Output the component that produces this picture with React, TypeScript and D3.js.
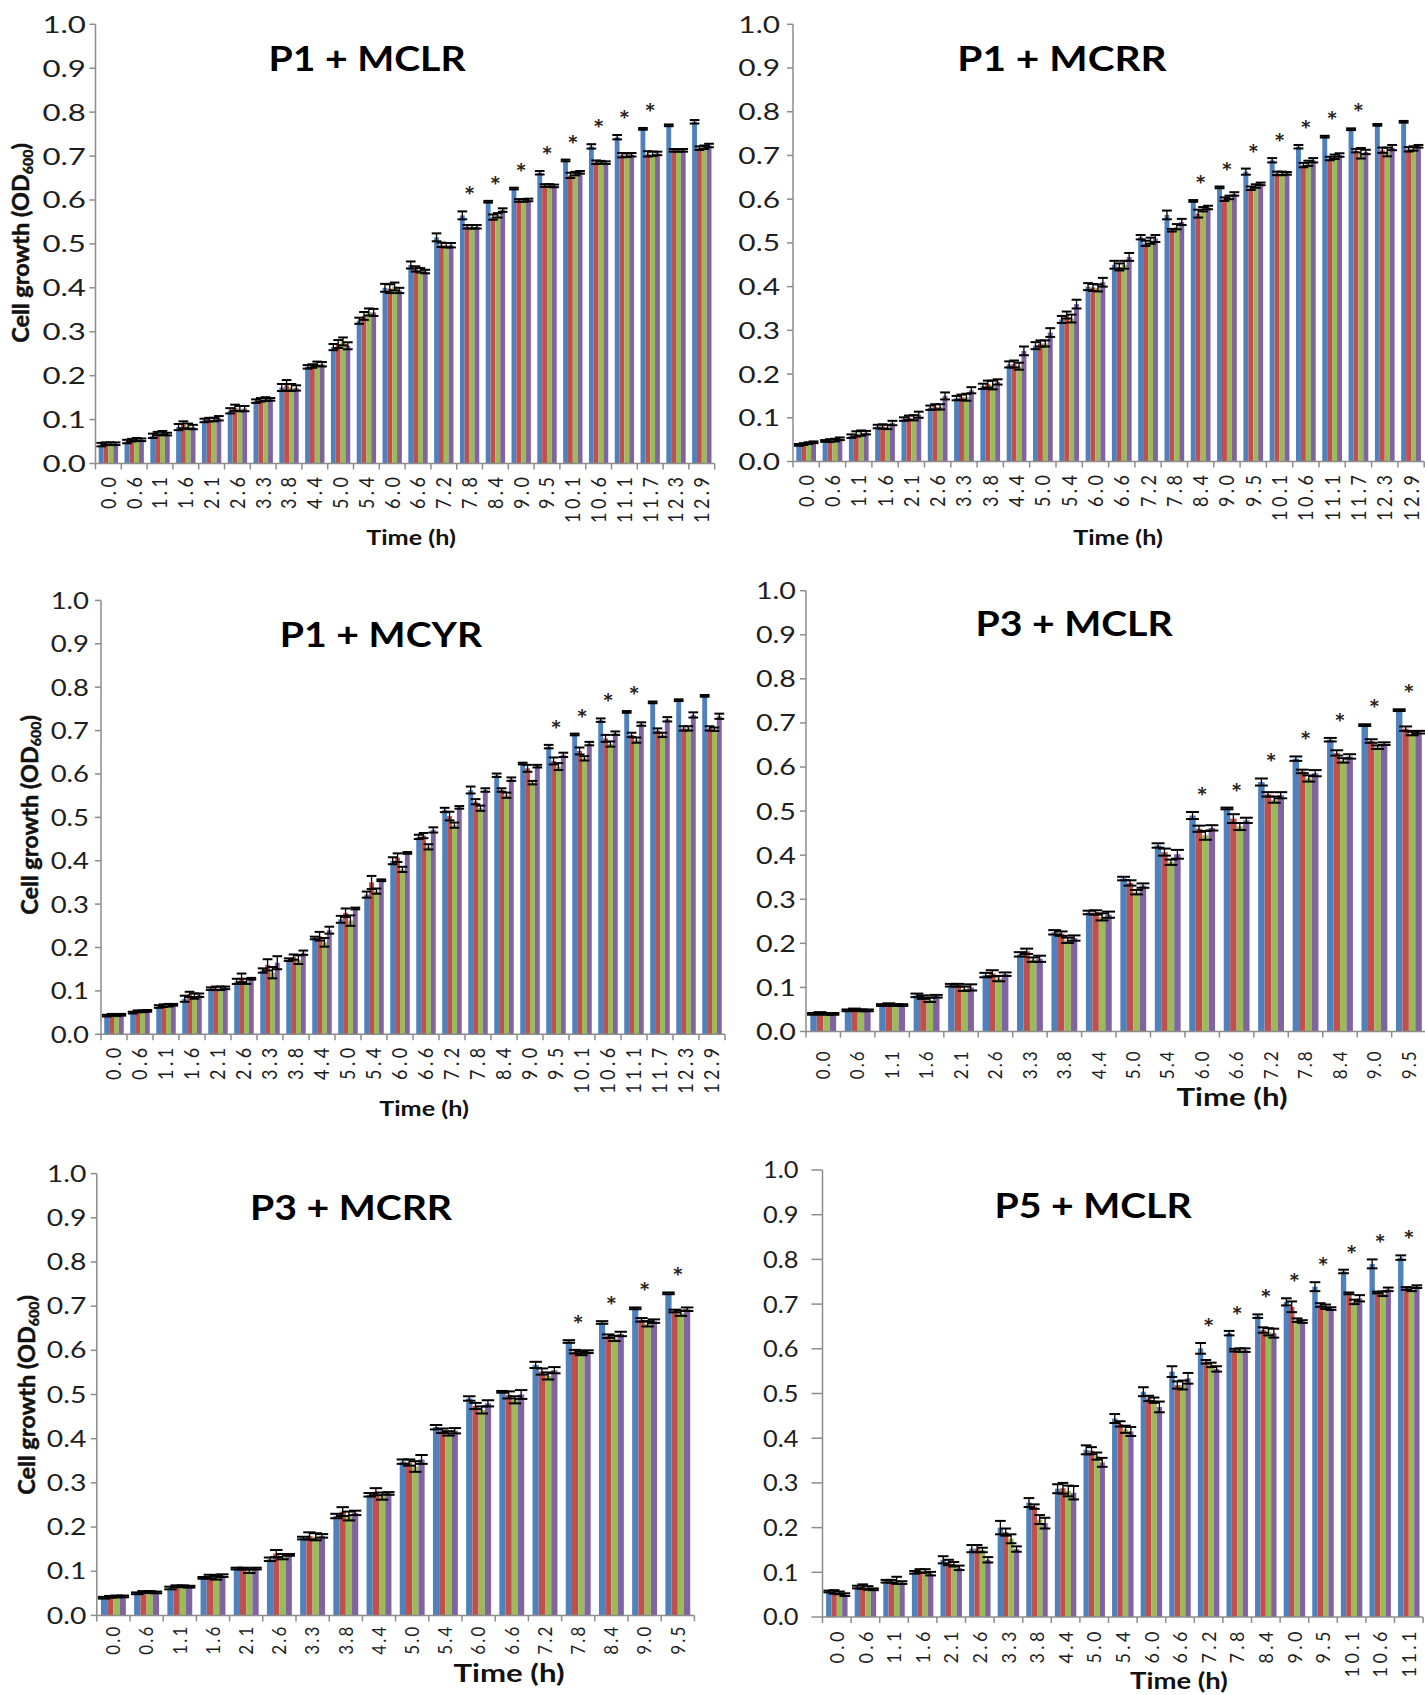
import React from "react";
import * as d3 from "d3";

// ---------- categories (time, h) ----------
const times24 = ["0.0","0.6","1.1","1.6","2.1","2.6","3.3","3.8","4.4","5.0","5.4","6.0","6.6","7.2","7.8","8.4","9.0","9.5","10.1","10.6","11.1","11.7","12.3","12.9"];
const times18 = ["0.0","0.6","1.1","1.6","2.1","2.6","3.3","3.8","4.4","5.0","5.4","6.0","6.6","7.2","7.8","8.4","9.0","9.5"];
const times21 = ["0.0","0.6","1.1","1.6","2.1","2.6","3.3","3.8","4.4","5.0","5.4","6.0","6.6","7.2","7.8","8.4","9.0","9.5","10.1","10.6","11.1"];
const yTickValues = [0,0.1,0.2,0.3,0.4,0.5,0.6,0.7,0.8,0.9,1.0];

// ---------- P1 + MCLR ----------
const p1Blue   = [0.043,0.050,0.063,0.083,0.098,0.120,0.142,0.173,0.220,0.265,0.325,0.400,0.452,0.515,0.565,0.596,0.626,0.662,0.690,0.722,0.743,0.762,0.770,0.778];
const p1Red    = [0.045,0.053,0.068,0.088,0.100,0.127,0.145,0.178,0.222,0.272,0.336,0.398,0.443,0.498,0.539,0.561,0.599,0.633,0.656,0.686,0.702,0.705,0.713,0.718];
const p1Green  = [0.045,0.055,0.070,0.085,0.100,0.125,0.147,0.173,0.227,0.278,0.345,0.403,0.440,0.497,0.539,0.565,0.599,0.633,0.660,0.686,0.702,0.705,0.713,0.720];
const p1Purple = [0.045,0.054,0.067,0.083,0.103,0.125,0.146,0.172,0.226,0.268,0.344,0.394,0.437,0.497,0.539,0.577,0.600,0.632,0.663,0.685,0.703,0.706,0.713,0.724];
const p1BlueErr   = [0.004,0.004,0.005,0.007,0.004,0.006,0.004,0.008,0.004,0.007,0.007,0.009,0.008,0.009,0.009,0.002,0.002,0.004,0.002,0.005,0.005,0.002,0.002,0.004];
const p1RedErr    = [0.003,0.003,0.004,0.008,0.004,0.007,0.004,0.012,0.004,0.009,0.009,0.010,0.006,0.005,0.004,0.006,0.003,0.003,0.006,0.004,0.005,0.006,0.003,0.004];
const p1GreenErr  = [0.003,0.003,0.004,0.006,0.004,0.006,0.004,0.008,0.005,0.009,0.008,0.009,0.005,0.005,0.004,0.005,0.003,0.003,0.004,0.003,0.004,0.005,0.003,0.004];
const p1PurpleErr = [0.003,0.003,0.003,0.005,0.005,0.006,0.003,0.006,0.005,0.008,0.008,0.006,0.004,0.005,0.004,0.004,0.003,0.003,0.003,0.003,0.004,0.004,0.003,0.004];
const p1Stars = ["7.8","8.4","9.0","9.5","10.1","10.6","11.1","11.7"];

// ---------- P1 + MCRR ----------
const p2Blue   = [0.038,0.047,0.058,0.080,0.097,0.123,0.145,0.172,0.222,0.265,0.325,0.400,0.450,0.513,0.564,0.596,0.627,0.663,0.689,0.720,0.743,0.760,0.770,0.777];
const p2Red    = [0.040,0.048,0.063,0.080,0.100,0.125,0.147,0.177,0.223,0.270,0.335,0.398,0.445,0.499,0.529,0.567,0.600,0.625,0.659,0.678,0.693,0.711,0.712,0.714];
const p2Green  = [0.042,0.049,0.065,0.079,0.100,0.125,0.147,0.175,0.218,0.270,0.327,0.397,0.450,0.505,0.537,0.577,0.604,0.630,0.659,0.682,0.697,0.705,0.708,0.716];
const p2Purple = [0.044,0.052,0.066,0.088,0.107,0.150,0.163,0.182,0.253,0.295,0.360,0.410,0.468,0.510,0.548,0.581,0.612,0.635,0.659,0.689,0.701,0.708,0.718,0.721];
const p2BlueErr   = [0.002,0.002,0.004,0.004,0.004,0.005,0.005,0.006,0.007,0.008,0.008,0.008,0.009,0.005,0.010,0.002,0.002,0.007,0.005,0.004,0.002,0.002,0.002,0.002];
const p2RedErr    = [0.002,0.003,0.006,0.005,0.005,0.006,0.006,0.008,0.008,0.007,0.008,0.008,0.008,0.006,0.003,0.009,0.004,0.004,0.004,0.005,0.004,0.004,0.006,0.005];
const p2GreenErr  = [0.002,0.003,0.006,0.005,0.006,0.006,0.008,0.010,0.008,0.007,0.009,0.008,0.009,0.007,0.006,0.005,0.004,0.004,0.004,0.006,0.005,0.012,0.010,0.005];
const p2PurpleErr = [0.002,0.003,0.004,0.005,0.007,0.008,0.007,0.006,0.010,0.010,0.010,0.010,0.009,0.008,0.007,0.004,0.004,0.003,0.003,0.005,0.004,0.005,0.006,0.003];
const p2Stars = ["8.4","9.0","9.5","10.1","10.6","11.1","11.7"];

// ---------- P1 + MCYR ----------
const p3Blue   = [0.043,0.050,0.064,0.082,0.105,0.122,0.147,0.172,0.222,0.265,0.322,0.400,0.455,0.517,0.563,0.597,0.624,0.663,0.691,0.724,0.743,0.765,0.770,0.780];
const p3Red    = [0.045,0.053,0.066,0.092,0.106,0.130,0.160,0.178,0.226,0.280,0.350,0.407,0.458,0.503,0.536,0.563,0.613,0.630,0.653,0.682,0.690,0.700,0.705,0.705];
const p3Green  = [0.044,0.053,0.067,0.088,0.106,0.122,0.142,0.172,0.212,0.262,0.330,0.380,0.432,0.482,0.521,0.551,0.580,0.617,0.636,0.669,0.678,0.690,0.705,0.703];
const p3Purple = [0.045,0.054,0.068,0.090,0.107,0.128,0.165,0.188,0.240,0.290,0.355,0.418,0.471,0.523,0.563,0.588,0.618,0.644,0.670,0.694,0.715,0.726,0.736,0.733];
const p3BlueErr   = [0.002,0.002,0.003,0.007,0.003,0.006,0.005,0.003,0.003,0.008,0.007,0.008,0.005,0.005,0.008,0.004,0.002,0.004,0.002,0.004,0.002,0.002,0.002,0.002];
const p3RedErr    = [0.002,0.002,0.003,0.006,0.004,0.010,0.013,0.006,0.010,0.010,0.015,0.010,0.006,0.010,0.006,0.004,0.008,0.008,0.008,0.008,0.005,0.005,0.005,0.005];
const p3GreenErr  = [0.002,0.002,0.003,0.006,0.004,0.006,0.013,0.010,0.010,0.012,0.006,0.006,0.006,0.006,0.006,0.006,0.004,0.008,0.005,0.006,0.006,0.005,0.005,0.004];
const p3PurpleErr = [0.002,0.002,0.002,0.004,0.003,0.002,0.015,0.005,0.008,0.002,0.002,0.002,0.006,0.003,0.004,0.004,0.003,0.005,0.004,0.004,0.004,0.005,0.006,0.006];
const p3Stars = ["9.5","10.1","10.6","11.1"];

// ---------- P3 + MCLR ----------
const p4Blue   = [0.040,0.048,0.060,0.082,0.105,0.128,0.175,0.225,0.270,0.347,0.422,0.490,0.506,0.566,0.619,0.662,0.695,0.729];
const p4Red    = [0.042,0.050,0.062,0.078,0.105,0.132,0.182,0.222,0.270,0.337,0.407,0.460,0.483,0.538,0.590,0.632,0.659,0.687];
const p4Green  = [0.040,0.048,0.060,0.072,0.097,0.120,0.163,0.207,0.260,0.316,0.384,0.445,0.465,0.526,0.574,0.615,0.645,0.676];
const p4Purple = [0.040,0.048,0.060,0.080,0.100,0.130,0.165,0.212,0.265,0.331,0.402,0.462,0.479,0.536,0.586,0.624,0.653,0.679];
const p4BlueErr   = [0.002,0.002,0.002,0.004,0.003,0.005,0.005,0.005,0.004,0.004,0.005,0.008,0.002,0.008,0.005,0.004,0.002,0.002];
const p4RedErr    = [0.002,0.002,0.002,0.004,0.003,0.007,0.006,0.005,0.005,0.006,0.008,0.007,0.010,0.005,0.004,0.006,0.004,0.005];
const p4GreenErr  = [0.002,0.002,0.002,0.005,0.005,0.006,0.005,0.006,0.008,0.005,0.006,0.010,0.008,0.007,0.007,0.005,0.004,0.004];
const p4PurpleErr = [0.002,0.002,0.002,0.003,0.007,0.004,0.007,0.006,0.007,0.005,0.010,0.006,0.006,0.007,0.007,0.005,0.003,0.003];
const p4Stars = ["6.0","6.6","7.2","7.8","8.4","9.0","9.5"];

// ---------- P3 + MCRR ----------
const p5Blue   = [0.040,0.050,0.062,0.085,0.106,0.127,0.175,0.225,0.273,0.348,0.426,0.491,0.506,0.567,0.620,0.663,0.695,0.729];
const p5Red    = [0.042,0.053,0.066,0.088,0.106,0.140,0.180,0.235,0.280,0.346,0.418,0.474,0.499,0.552,0.597,0.632,0.669,0.689];
const p5Green  = [0.043,0.053,0.066,0.085,0.100,0.133,0.178,0.225,0.270,0.337,0.412,0.465,0.488,0.542,0.593,0.627,0.660,0.684];
const p5Purple = [0.043,0.052,0.065,0.090,0.106,0.137,0.180,0.232,0.276,0.353,0.418,0.480,0.500,0.555,0.597,0.637,0.666,0.693];
const p5BlueErr   = [0.002,0.002,0.003,0.002,0.002,0.004,0.003,0.005,0.004,0.005,0.005,0.005,0.002,0.007,0.003,0.003,0.002,0.002];
const p5RedErr    = [0.002,0.002,0.002,0.004,0.002,0.008,0.008,0.010,0.008,0.007,0.005,0.007,0.008,0.007,0.004,0.004,0.004,0.003];
const p5GreenErr  = [0.002,0.002,0.002,0.004,0.004,0.006,0.008,0.010,0.008,0.012,0.005,0.008,0.008,0.008,0.004,0.006,0.006,0.006];
const p5PurpleErr = [0.002,0.002,0.002,0.003,0.002,0.002,0.004,0.005,0.003,0.010,0.006,0.007,0.010,0.007,0.003,0.005,0.004,0.004];
const p5Stars = ["7.8","8.4","9.0","9.5"];

// ---------- P5 + MCLR ----------
const p6Blue   = [0.057,0.067,0.080,0.100,0.128,0.153,0.200,0.256,0.287,0.374,0.444,0.504,0.549,0.601,0.635,0.673,0.705,0.739,0.773,0.790,0.804];
const p6Red    = [0.056,0.068,0.080,0.103,0.122,0.153,0.190,0.247,0.288,0.372,0.432,0.489,0.519,0.571,0.597,0.642,0.694,0.698,0.724,0.726,0.735];
const p6Green  = [0.054,0.065,0.082,0.103,0.118,0.150,0.175,0.218,0.282,0.360,0.420,0.485,0.519,0.564,0.597,0.638,0.664,0.694,0.705,0.723,0.733];
const p6Purple = [0.050,0.062,0.077,0.097,0.110,0.128,0.152,0.210,0.278,0.346,0.415,0.470,0.534,0.555,0.597,0.635,0.661,0.690,0.713,0.733,0.739];
const p6BlueErr   = [0.002,0.003,0.003,0.003,0.008,0.008,0.015,0.010,0.010,0.010,0.010,0.010,0.012,0.012,0.005,0.004,0.008,0.010,0.004,0.010,0.005];
const p6RedErr    = [0.004,0.005,0.003,0.004,0.006,0.008,0.008,0.005,0.012,0.008,0.006,0.006,0.008,0.004,0.003,0.006,0.012,0.004,0.002,0.002,0.003];
const p6GreenErr  = [0.003,0.004,0.008,0.004,0.005,0.005,0.010,0.010,0.012,0.008,0.008,0.006,0.010,0.005,0.004,0.008,0.004,0.005,0.005,0.005,0.004];
const p6PurpleErr = [0.003,0.002,0.003,0.004,0.005,0.006,0.006,0.012,0.015,0.010,0.010,0.012,0.012,0.006,0.004,0.010,0.003,0.003,0.007,0.004,0.003];
const p6Stars = ["7.2","7.8","8.4","9.0","9.5","10.1","10.6","11.1"];

const COLORS = ["#4F81BD", "#C0504D", "#9BBB59", "#8064A2"];
const FONT = "Lato, 'Open Sans', 'DejaVu Sans', sans-serif";
const AXIS = "#8c8c8c";
const INK = "#1e1e1e";

type Layout = {
  title: string; cats: string[]; series: number[][]; errs: number[][]; stars: string[];
  ax: number; step: number; yTop: number; yBase: number;
  tickLen: number; yLabGap: number; yTickSize: number; yTickSx: number;
  xTickSize: number; xTickSx: number; xLabOff: number; xLs: number;
  titleX: number; titleY: number; titleSize: number; titleSx: number;
  timeX: number; timeY: number; timeSize: number; timeSx: number;
  yLabel?: { cx: number; cy: number; size: number; sx: number };
};

const panels: Layout[] = [
  { title: "P1 + MCLR", cats: times24, series: [p1Blue, p1Red, p1Green, p1Purple], errs: [p1BlueErr, p1RedErr, p1GreenErr, p1PurpleErr], stars: p1Stars,
    ax: 95.5, step: 25.8, yTop: 24.3, yBase: 463.5, tickLen: 6, yLabGap: 9.5, yTickSize: 23.5, yTickSx: 1.33,
    xTickSize: 18, xTickSx: 1.15, xLabOff: 10, xLs: 3.5, titleX: 367, titleY: 71, titleSize: 35, titleSx: 1.12,
    timeX: 411, timeY: 545, timeSize: 21, timeSx: 1.2, yLabel: { cx: 21, cy: 243, size: 23.5, sx: 0.95 } },
  { title: "P1 + MCRR", cats: times24, series: [p2Blue, p2Red, p2Green, p2Purple], errs: [p2BlueErr, p2RedErr, p2GreenErr, p2PurpleErr], stars: p2Stars,
    ax: 793, step: 26.3, yTop: 24.3, yBase: 461.5, tickLen: 6, yLabGap: 13, yTickSize: 23.5, yTickSx: 1.27,
    xTickSize: 18, xTickSx: 1.15, xLabOff: 10, xLs: 3.5, titleX: 1062, titleY: 71, titleSize: 35, titleSx: 1.16,
    timeX: 1118, timeY: 545, timeSize: 21, timeSx: 1.2 },
  { title: "P1 + MCYR", cats: times24, series: [p3Blue, p3Red, p3Green, p3Purple], errs: [p3BlueErr, p3RedErr, p3GreenErr, p3PurpleErr], stars: p3Stars,
    ax: 101, step: 26.0, yTop: 600.4, yBase: 1034.3, tickLen: 6, yLabGap: 12, yTickSize: 23.5, yTickSx: 1.17,
    xTickSize: 18, xTickSx: 1.15, xLabOff: 10, xLs: 3.5, titleX: 381, titleY: 647, titleSize: 35, titleSx: 1.12,
    timeX: 424, timeY: 1116, timeSize: 21, timeSx: 1.2, yLabel: { cx: 29.5, cy: 815, size: 23.5, sx: 0.95 } },
  { title: "P3 + MCLR", cats: times18, series: [p4Blue, p4Red, p4Green, p4Purple], errs: [p4BlueErr, p4RedErr, p4GreenErr, p4PurpleErr], stars: p4Stars,
    ax: 806, step: 34.45, yTop: 590.7, yBase: 1031.5, tickLen: 6, yLabGap: 10, yTickSize: 23.5, yTickSx: 1.22,
    xTickSize: 17, xTickSx: 1.1, xLabOff: 18, xLs: 2, titleX: 1074, titleY: 636, titleSize: 35, titleSx: 1.12,
    timeX: 1232, timeY: 1106, timeSize: 24, timeSx: 1.3 },
  { title: "P3 + MCRR", cats: times18, series: [p5Blue, p5Red, p5Green, p5Purple], errs: [p5BlueErr, p5RedErr, p5GreenErr, p5PurpleErr], stars: p5Stars,
    ax: 96.8, step: 33.2, yTop: 1173.6, yBase: 1615.4, tickLen: 6, yLabGap: 10.4, yTickSize: 22.5, yTickSx: 1.26,
    xTickSize: 17, xTickSx: 1.1, xLabOff: 9, xLs: 2.2, titleX: 351, titleY: 1220, titleSize: 35, titleSx: 1.12,
    timeX: 509, timeY: 1682, timeSize: 24, timeSx: 1.3, yLabel: { cx: 27, cy: 1395, size: 23.5, sx: 0.95 } },
  { title: "P5 + MCLR", cats: times21, series: [p6Blue, p6Red, p6Green, p6Purple], errs: [p6BlueErr, p6RedErr, p6GreenErr, p6PurpleErr], stars: p6Stars,
    ax: 822.5, step: 28.6, yTop: 1170, yBase: 1617, tickLen: 11, yLabGap: 24, yTickSize: 23.5, yTickSx: 1.08,
    xTickSize: 18, xTickSx: 1.1, xLabOff: 11, xLs: 3.5, titleX: 1093, titleY: 1218, titleSize: 35, titleSx: 1.12,
    timeX: 1179, timeY: 1689, timeSize: 22, timeSx: 1.25 },
];

function SText(props: { x: number; y: number; sx?: number; rot?: number; anchor?: string; size: number; weight?: string | number; fill?: string; ls?: number; stroke?: string; children: React.ReactNode }) {
  const { x, y, sx = 1, rot = 0, anchor = "start", size, weight = "normal", fill = INK, ls, stroke, children } = props;
  const t = `translate(${x},${y}) scale(${sx},1)` + (rot ? ` rotate(${rot})` : "");
  return (
    <text transform={t} textAnchor={anchor as any} fontSize={size} fontWeight={weight as any} fill={fill} fontFamily={FONT} letterSpacing={ls}
      stroke={stroke} strokeWidth={stroke ? 0.5 : undefined}>
      {children}
    </text>
  );
}

function Panel({ p }: { p: Layout }) {
  const n = p.cats.length;
  const x = d3.scaleBand<string>().domain(p.cats).range([p.ax, p.ax + p.step * n]).padding(0);
  const inner = d3.scaleBand<number>().domain([0, 1, 2, 3]).range([p.step * 0.125, p.step * 0.875]).padding(0);
  const y = d3.scaleLinear().domain([0, 1]).range([p.yBase, p.yTop]);
  const fmt = d3.format(".1f");
  const bw = inner.bandwidth();
  const capW = Math.max(8, bw * 2);
  const xEnd = p.ax + p.step * n;

  return (
    <g>
      {p.series.map((vals, si) => (
        <g key={"s" + si}>
          {vals.map((v, i) => (
            <rect key={i} x={(x(p.cats[i]) as number) + (inner(si) as number)} y={y(v)} width={bw} height={y(0) - y(v)} fill={COLORS[si]} />
          ))}
        </g>
      ))}
      {p.series.map((vals, si) => (
        <g key={"e" + si} stroke="#000">
          {vals.map((v, i) => {
            const cx = (x(p.cats[i]) as number) + (inner(si) as number) + bw / 2;
            const e = p.errs[si][i];
            const y1 = y(v + e), y2 = y(v - e);
            return (
              <g key={i}>
                <line x1={cx} x2={cx} y1={y1} y2={y2} strokeWidth={1.3} />
                <line x1={cx - capW / 2} x2={cx + capW / 2} y1={y1} y2={y1} strokeWidth={2} />
                <line x1={cx - capW / 2} x2={cx + capW / 2} y1={y2} y2={y2} strokeWidth={2} />
              </g>
            );
          })}
        </g>
      ))}
      {p.stars.map((c) => {
        const i = p.cats.indexOf(c);
        const cx = (x(c) as number) + p.step / 2;
        const top = y(p.series[0][i] + p.errs[0][i]);
        return (
          <SText key={"st" + c} x={cx} y={top - 19 + 13} sx={1.1} anchor="middle" size={24} weight="bold" fill="#2a2218">*</SText>
        );
      })}
      <line x1={p.ax} x2={p.ax} y1={y(1)} y2={y(0)} stroke={AXIS} strokeWidth={1.5} />
      {yTickValues.map((t) => (
        <g key={"yt" + t}>
          <line x1={p.ax - p.tickLen} x2={p.ax} y1={y(t)} y2={y(t)} stroke={AXIS} strokeWidth={1.5} />
          <SText x={p.ax - p.yLabGap} y={y(t) + p.yTickSize * 0.36} sx={p.yTickSx} anchor="end" size={p.yTickSize}>{fmt(t)}</SText>
        </g>
      ))}
      <line x1={p.ax} x2={xEnd} y1={y(0)} y2={y(0)} stroke={AXIS} strokeWidth={1.5} />
      {d3.range(n + 1).map((k) => (
        <line key={"xt" + k} x1={p.ax + k * p.step} x2={p.ax + k * p.step} y1={y(0)} y2={y(0) + 6} stroke={AXIS} strokeWidth={1.5} />
      ))}
      {p.cats.map((c) => {
        const cx = (x(c) as number) + p.step / 2;
        return (
          <SText key={"xl" + c} x={cx + p.xTickSize * 0.36 * p.xTickSx} y={y(0) + p.xLabOff} sx={p.xTickSx} rot={-90} anchor="end" size={p.xTickSize} ls={p.xLs}>{c}</SText>
        );
      })}
      <SText x={p.titleX} y={p.titleY} sx={p.titleSx} anchor="middle" size={p.titleSize} weight="bold" fill="#000">{p.title}</SText>
      <SText x={p.timeX} y={p.timeY} sx={p.timeSx} anchor="middle" size={p.timeSize} weight="bold" fill="#111">Time (h)</SText>
      {p.yLabel && (
        <SText x={p.yLabel.cx + p.yLabel.size * 0.36 * p.yLabel.sx} y={p.yLabel.cy} sx={p.yLabel.sx} rot={-90} anchor="middle" size={p.yLabel.size} weight="bold" fill="#111" stroke="#111">
          Cell growth (OD<tspan dy={4} fontSize={p.yLabel.size * 0.6}>600</tspan><tspan dy={-4}>)</tspan>
        </SText>
      )}
    </g>
  );
}

export default function App() {
  return (
    <svg width={1425} height={1695} viewBox="0 0 1425 1695" style={{ position: "absolute", left: 0, top: 0, background: "#fff" }}>
      <rect x={0} y={0} width={1425} height={1695} fill="#fff" />
      {panels.map((p) => (
        <Panel key={p.title} p={p} />
      ))}
    </svg>
  );
}
